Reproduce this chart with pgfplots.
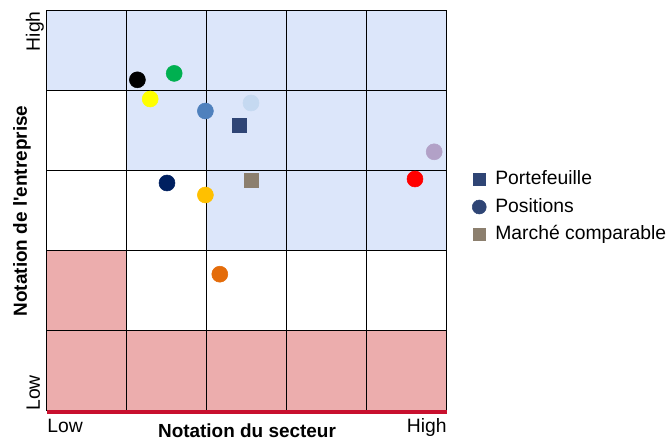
\documentclass[border=0pt]{standalone}
\usepackage{pgfplots}
\pgfplotsset{compat=1.18}
\usepackage{pgfplotstable}
\usepackage{fontspec}
\setmainfont{Liberation Sans}

\definecolor{bgBlue}{HTML}{DCE6FA}
\definecolor{bgPink}{HTML}{ECADAD}
\definecolor{baseRed}{HTML}{C8102E}
\definecolor{cNavy}{HTML}{2F4575}
\definecolor{cMarket}{HTML}{8C7F6E}
\definecolor{cGreen}{HTML}{00B050}
\definecolor{cYellow}{HTML}{FFFF00}
\definecolor{cSteel}{HTML}{4F81BD}
\definecolor{cLight}{HTML}{C5D9F1}
\definecolor{cLav}{HTML}{B2A1C7}
\definecolor{cRed}{HTML}{FF0000}
\definecolor{cDark}{HTML}{002060}
\definecolor{cGold}{HTML}{FFC000}
\definecolor{cOrange}{HTML}{E46C0A}

% individual holdings (circles)
\pgfplotstableread{
x    y    c
1.13 4.14 k
1.59 4.22 g
1.29 3.90 y
1.98 3.75 sb
2.55 3.85 lb
4.84 3.24 lv
4.60 2.90 r
1.50 2.85 dn
1.98 2.70 gd
2.16 1.71 o
}\positions

\pgfplotstableread{
x    y
2.40 3.57
}\portfolio

\pgfplotstableread{
x    y
2.55 2.89
}\market

\begin{document}
\begin{tikzpicture}
\begin{axis}[
    set layers,
    at={(0pt,0pt)}, anchor=south west,
    scale only axis,
    width=300pt, height=300pt,
    xmin=0, xmax=5, ymin=0, ymax=5,
    xtick={1,2,3,4}, ytick={1,2,3,4},
    xticklabels={}, yticklabels={},
    major tick length=0pt,
    grid=major,
    grid style={black, line width=0.75pt},
    axis line style={black, line width=0.75pt},
    clip=false,
    legend style={
        draw=none, fill=none,
        at={(1.0525,0.51)}, anchor=west,
        font=\fontsize{14.5}{16}\selectfont,
        nodes={inner sep=0pt, text height=10.5pt, text depth=3pt},
        row sep=7.1pt, column sep=6.8pt,
        legend cell align=left,
    },
    legend image code/.code={\draw[#1] plot coordinates {(0pt,0pt)};},
]
% zone backgrounds
\addplot[fill=bgBlue, draw=none, on layer=axis background, forget plot]
    coordinates {(0,5) (5,5) (5,2) (2,2) (2,3) (1,3) (1,4) (0,4)};
\addplot[fill=bgPink, draw=none, on layer=axis background, forget plot]
    coordinates {(0,0) (5,0) (5,1) (1,1) (1,2) (0,2)};

\addplot[scatter, only marks, mark=*, mark size=6pt,
    point meta=explicit symbolic, forget plot,
    scatter/classes={
        k={black}, g={cGreen}, y={cYellow}, sb={cSteel}, lb={cLight},
        lv={cLav}, r={cRed}, dn={cDark}, gd={cGold}, o={cOrange}}]
    table[meta=c] {\positions};
\addplot[only marks, mark=square*, mark size=5.25pt, color=cNavy, forget plot]
    table {\portfolio};
\addplot[only marks, mark=square*, mark size=5.25pt, color=cMarket, forget plot]
    table {\market};

\addlegendimage{only marks, mark=square*, mark size=4.6pt, color=cNavy}
\addlegendentry{Portefeuille}
\addlegendimage{only marks, mark=*, mark size=5.25pt, color=cNavy}
\addlegendentry{Positions}
\addlegendimage{only marks, mark=square*, mark size=4.6pt, color=cMarket}
\addlegendentry{Marché comparable}

\draw[baseRed, line width=3.2pt] ([yshift=-0.6pt]axis cs:0,0) -- ([yshift=-0.6pt]axis cs:5,0);

\node[inner sep=0pt, anchor=base west, font=\fontsize{14.5}{16}\selectfont]
    at ([yshift=-16.5pt]rel axis cs:0,0) {Low};
\node[inner sep=0pt, anchor=base east, font=\fontsize{14.5}{16}\selectfont]
    at ([yshift=-16.5pt]rel axis cs:1,0) {High};
\node[inner sep=0pt, anchor=base, font=\fontsize{14.2}{16}\selectfont\bfseries]
    at ([yshift=-20.25pt]rel axis cs:0.5,0) {Notation du secteur};
\node[inner sep=0pt, rotate=90, anchor=base west, font=\fontsize{14.5}{16}\selectfont]
    at ([xshift=-5.25pt]rel axis cs:0,0) {Low};
\node[inner sep=0pt, rotate=90, anchor=base east, font=\fontsize{14.5}{16}\selectfont]
    at ([xshift=-5.25pt]rel axis cs:0,1) {High};
\node[inner sep=0pt, rotate=90, anchor=base, font=\fontsize{14.2}{16}\selectfont\bfseries]
    at ([xshift=-15pt]rel axis cs:0,0.5) {Notation de l\textquotesingle entreprise};
\end{axis}
\pgfresetboundingbox
\useasboundingbox (-35.25pt,-23.25pt) rectangle (465pt,308.25pt);
\end{tikzpicture}
\end{document}
